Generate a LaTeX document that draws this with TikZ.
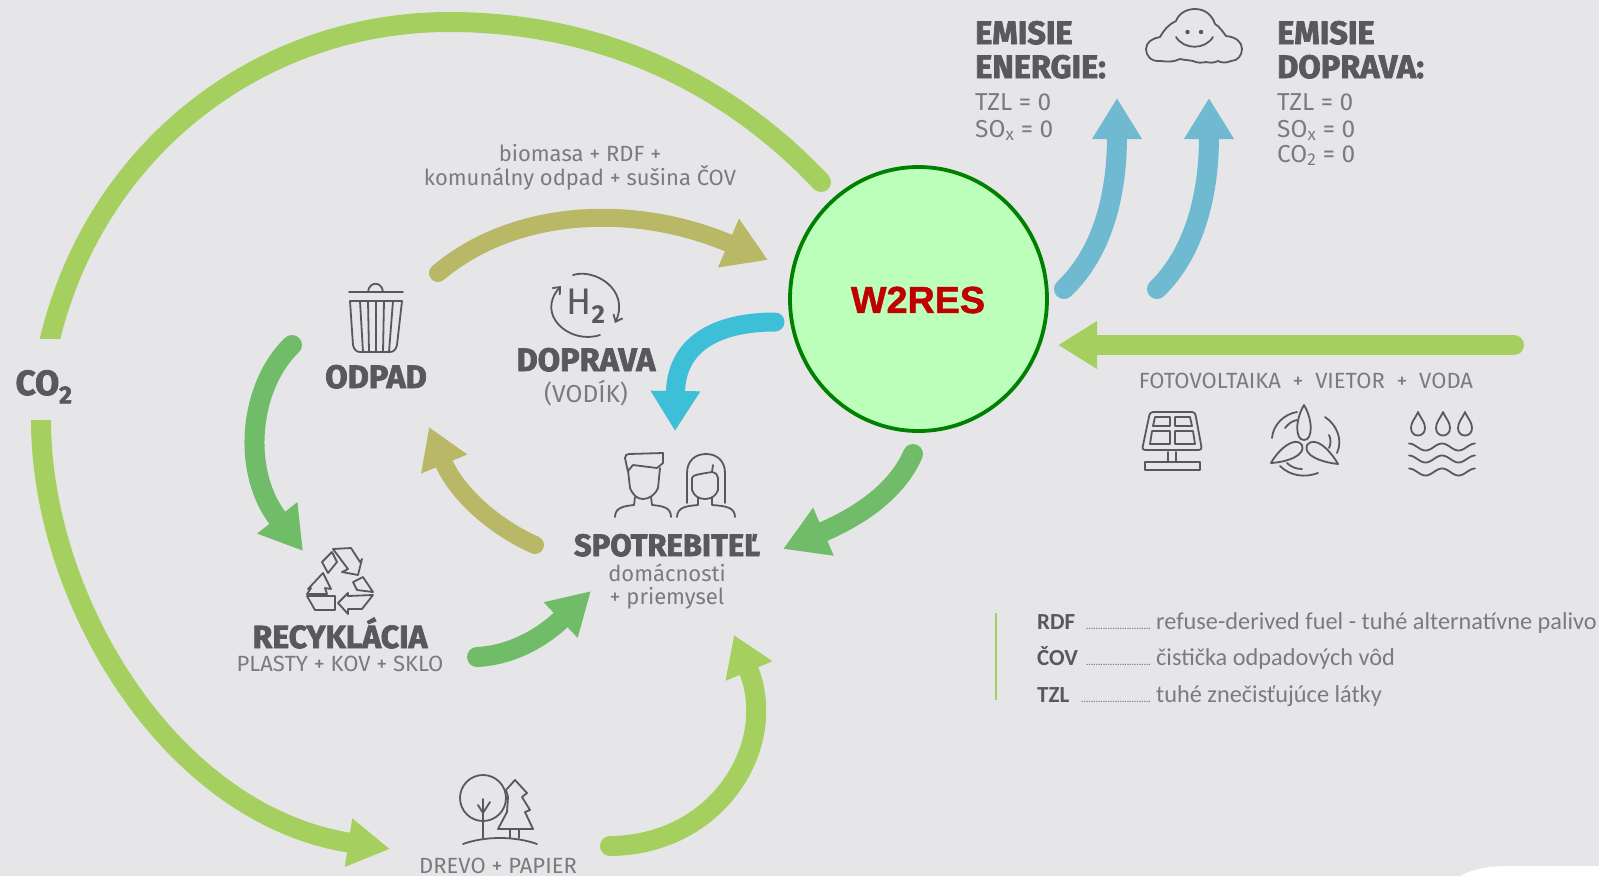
\documentclass[tikz,border=0pt]{standalone}
\usepackage{fontspec}
\usepackage{xcolor}
\usetikzlibrary{arrows.meta, calc, positioning, shapes.geometric}
\setmainfont{Fira Sans}
\newfontfamily\heavyfont[BoldFeatures={FakeBold=2.2}]{Fira Sans}
\newfontfamily\legendfont{Carlito}
\newfontfamily\redfont[BoldFeatures={FakeBold=1.4}]{Liberation Sans}
\definecolor{bgpanel}{HTML}{E6E6E8}
\definecolor{heavygrey}{HTML}{58595B}
\definecolor{thingrey}{HTML}{7A7B7E}
\definecolor{leafgreen}{HTML}{A5D05F}
\definecolor{midgreen}{HTML}{70BC69}
\definecolor{olivebrown}{HTML}{B8B866}
\definecolor{skyblue}{HTML}{6FBAD0}
\definecolor{brightcyan}{HTML}{3DBFD8}
\definecolor{circlefill}{HTML}{BBFFBB}
\definecolor{circleline}{HTML}{008000}
\definecolor{redtext}{HTML}{C00000}
\tikzset{
  heavylabel/.style={text=heavygrey, inner sep=0pt, anchor=base, font=\heavyfont\bfseries\fontsize{32.5}{34}\selectfont},
  thinlabel/.style={text=thingrey, inner sep=0pt, anchor=base, font=\fontsize{22}{25}\selectfont},
  biglabel/.style={text=thingrey, inner sep=0pt, anchor=base, font=\fontsize{24.5}{27}\selectfont},
  legendkey/.style={text=heavygrey, inner sep=0pt, anchor=base west, font=\legendfont\bfseries\fontsize{23}{26}\selectfont},
  legendtext/.style={text=thingrey, inner sep=0pt, anchor=base west, font=\legendfont\fontsize{24.3}{28}\selectfont},
  legenddots/.style={text=thingrey, inner sep=0pt, anchor=base east, font=\fontsize{10}{12}\selectfont},
  iconline/.style={draw=heavygrey, line width=1.8pt, line join=round, line cap=round},
  leafflow/.style={draw=leafgreen, line width=20pt, line cap=round},
  greenflow/.style={draw=midgreen, line width=20pt, line cap=round},
  oliveflow/.style={draw=olivebrown, line width=18pt, line cap=round},
  blueflow/.style={draw=skyblue, line width=20pt, line cap=round},
  cyanflow/.style={draw=brightcyan, line width=19pt, line cap=round},
}
\begin{document}
\begin{tikzpicture}[x=1pt,y=-1pt]
  \fill[bgpanel] (0,0) rectangle (1599,876);
  \fill[white] (1460,876) .. controls (1475,868) and (1490,866) .. (1510,866) -- (1599,866) -- (1599,876) -- cycle;
  \useasboundingbox (0,0) rectangle (1599,876);

  % Centre
  \node[ellipse, draw=circleline, fill=circlefill, line width=3.8pt, minimum width=257pt, minimum height=264pt, inner sep=0pt] (wtores) at (918.5,299) {};
  \node[text=redtext, inner sep=0pt, font=\redfont\bfseries\fontsize{37.7}{40}\selectfont] (wlabel) at (918,300) {W2RES};

  % Free ends of the arrows
  \coordinate (coup) at (47,352);
  \coordinate (codown) at (41,420);
  \coordinate (cotop) at (449,22);
  \coordinate (cohome) at (821,182);
  \coordinate (drevoin) at (390,849);
  \coordinate (drevoout) at (610,846);
  \coordinate (spotrebin) at (734,635);
  \coordinate (odpadout) at (438,273);
  \coordinate (wtoresin) at (768,260);
  \coordinate (wtoresh) at (775,322);
  \coordinate (dopravain) at (675,431);
  \coordinate (spotout) at (535,545);
  \coordinate (odpadin) at (429,427);
  \coordinate (odpadleft) at (292,345);
  \coordinate (recyin) at (303,551);
  \coordinate (recyout) at (477,657);
  \coordinate (spotin) at (591,591);
  \coordinate (wtoresdown) at (913,454);
  \coordinate (spotright) at (783,549);
  \coordinate (emisout) at (1064,289);
  \coordinate (emisin) at (1117,98);
  \coordinate (dopout) at (1157,289);
  \coordinate (dopin) at (1209,98);
  \coordinate (sunout) at (1514,345);
  \coordinate (sunin) at (1058,345);

  % Arrows
  \begin{scope}
    \clip (0,0) rectangle (1599,338);
    \draw[leafflow] (coup) .. controls (90,150) and (260,22) .. (cotop)
       .. controls (590,22) and (720,75) .. (cohome);
  \end{scope}
  \draw[leafflow, line cap=butt, -{Triangle[length=42pt,width=46pt]}] (codown) .. controls (41,600) and (170,815) .. (drevoin);
  \draw[leafflow, -{Triangle[length=39pt,width=48pt]}] (drevoout) .. controls (720,845) and (779,743) .. (spotrebin);
  \draw[oliveflow, -{Triangle[length=43pt,width=50pt]}] (odpadout) .. controls (515,208) and (635,203) .. (wtoresin);
  \draw[cyanflow, -{Triangle[length=40pt,width=47pt]}] (wtoresh) .. controls (715,322) and (676,345) .. (dopravain);
  \draw[oliveflow, -{Triangle[length=40pt,width=47pt]}] (spotout) .. controls (490,525) and (455,490) .. (odpadin);
  \draw[greenflow, -{Triangle[length=42pt,width=48pt]}] (odpadleft) .. controls (250,385) and (240,470) .. (recyin);
  \draw[greenflow, -{Triangle[length=42pt,width=46pt]}] (recyout) .. controls (515,655) and (545,635) .. (spotin);
  \draw[greenflow, -{Triangle[length=44pt,width=49pt]}] (wtoresdown) .. controls (895,495) and (853,519) .. (spotright);
  \draw[blueflow, -{Triangle[length=41pt,width=47pt]}] (emisout) .. controls (1100,255) and (1117,200) .. (emisin);
  \draw[blueflow, -{Triangle[length=41pt,width=47pt]}] (dopout) .. controls (1192,255) and (1209,200) .. (dopin);
  \draw[leafflow, -{Triangle[length=39pt,width=45pt]}] (sunout) -- (sunin);

  % Labels
  \node[heavylabel, font=\heavyfont\bfseries\fontsize{35}{38}\selectfont] (colabel) at (44,395) {CO\textsubscript{2}};
  \node[heavylabel, anchor=base west] (emisa) at (975,44) {EMISIE};
  \node[heavylabel, anchor=base west] (emisb) at (975,78) {ENERGIE:};
  \node[biglabel, anchor=base west] (emisc) at (975,110) {TZL = 0};
  \node[biglabel, anchor=base west] (emisd) at (975,137) {SO\textsubscript{x} = 0};
  \node[heavylabel, anchor=base west] (dopa) at (1277,44) {EMISIE};
  \node[heavylabel, anchor=base west] (dopb) at (1277,78) {DOPRAVA:};
  \node[biglabel, anchor=base west] (dopc) at (1277,110) {TZL = 0};
  \node[biglabel, anchor=base west] (dopd) at (1277,137) {SO\textsubscript{x} = 0};
  \node[biglabel, anchor=base west] (dope) at (1277,162) {CO\textsubscript{2} = 0};
  \node[thinlabel] (biomasa) at (580,161) {biomasa + RDF +};
  \node[thinlabel] (komunal) at (580,185) {komunálny odpad + sušina ČOV};
  \node[heavylabel] (odpad) at (376,388) {ODPAD};
  \node[heavylabel] (doprava) at (586,371) {DOPRAVA};
  \node[biglabel] (vodik) at (586,402) {(VODÍK)};
  \node[heavylabel, font=\heavyfont\bfseries\fontsize{31}{34}\selectfont] (spotreb) at (667,556) {SPOTREBITEĽ};
  \node[thinlabel] (domac) at (667,581) {domácnosti};
  \node[thinlabel] (priem) at (667,604) {+ priemysel};
  \node[heavylabel, font=\heavyfont\bfseries\fontsize{32}{34}\selectfont] (recyk) at (340,648) {RECYKLÁCIA};
  \node[thinlabel] (plasty) at (340,671) {PLASTY + KOV + SKLO};
  \node[thinlabel] (drevo) at (498,873) {DREVO + PAPIER};
  \node[thinlabel] (foto) at (1306,388) {FOTOVOLTAIKA\ \ +\ \ VIETOR\ \ +\ \ VODA};
  \node[text=heavygrey, inner sep=0pt, font=\fontsize{37}{40}\selectfont] (htwo) at (586,306) {H\textsubscript{\bfseries 2}};

  % Legend
  \draw[draw=leafgreen, line width=2pt] (996,613) -- (996,700);
  \node[legendkey] (rdf) at (1037,629) {RDF};
  \node[legenddots] (rdfdots) at (1151,629) {...........................};
  \node[legendtext] (rdftext) at (1156,629) {refuse-derived fuel - tuhé alternatívne palivo};
  \node[legendkey] (cov) at (1037,665) {ČOV};
  \node[legenddots] (covdots) at (1151,665) {...........................};
  \node[legendtext] (covtext) at (1156,665) {čistička odpadových vôd};
  \node[legendkey] (tzl) at (1037,702) {TZL};
  \node[legenddots] (tzldots) at (1151,702) {.............................};
  \node[legendtext] (tzltext) at (1156,702) {tuhé znečisťujúce látky};

  % Cloud
  \draw[iconline] (1161,61) .. controls (1150,62) and (1146,55) .. (1146,49)
     .. controls (1146,42) and (1153,38) .. (1160,37)
     .. controls (1164,30) and (1169,24) .. (1176,21)
     .. controls (1179,13) and (1187,9) .. (1195,9)
     .. controls (1205,9) and (1212,15) .. (1215,24)
     .. controls (1219,26) and (1223,32) .. (1226,36)
     .. controls (1236,37) and (1242,42) .. (1242,49)
     .. controls (1242,56) and (1237,61) .. (1231,61)
     .. controls (1226,63) and (1222,63) .. (1218,61)
     .. controls (1214,63) and (1210,63) .. (1206,62)
     .. controls (1202,63) and (1197,63) .. (1193,61)
     .. controls (1188,60) and (1184,60) .. (1180,59)
     .. controls (1174,62) and (1167,62) .. (1161,61);
  \fill[heavygrey] (1187.5,32) circle[radius=2.2pt] (1201,32) circle[radius=2.2pt];
  \draw[iconline] (1176,37) .. controls (1184,50) and (1205,50) .. (1213,37);

  % Trash can
  \draw[iconline] (349,292) -- (403,292);
  \draw[iconline] (368,292) .. controls (369,281) and (382,281) .. (383,292);
  \draw[iconline] (350,301) -- (402,301) -- (397,345) .. controls (396,350) and (393,352) .. (390,352)
     -- (360,352) .. controls (357,352) and (354,350) .. (353,345) -- cycle;
  \foreach \xa/\xb in {360/363,368/369,376/376,384/383,393/389}
    \draw[iconline] (\xa,301) -- (\xb,352);

  % H2 arrows
  \draw[iconline, -{Straight Barb[length=6pt,width=10pt]}] (600,335) .. controls (570,345) and (535,315) .. (561,286);
  \draw[iconline, -{Straight Barb[length=6pt,width=10pt]}] (573,275) .. controls (595,268) and (630,290) .. (615,323);

  % People
  \draw[iconline] (628,472) -- (625,458) .. controls (625,455) and (627,454) .. (629,454) -- (663,453)
     -- (663,463) -- (657,468) -- (633,465) -- (628,471);
  \draw[iconline] (628,470) -- (630,488) .. controls (633,495) and (637,499) .. (643,499)
     .. controls (649,499) and (655,495) .. (658,488) -- (660,468);
  \draw[iconline] (635,497) -- (634,505) .. controls (625,506) and (615,507) .. (615,517);
  \draw[iconline] (651,497) -- (652,505) .. controls (662,506) and (671,507) .. (671,517);
  \draw[iconline] (687,503) -- (687,473) .. controls (687,461) and (695,454) .. (706,454)
     .. controls (717,454) and (725,461) .. (725,473) -- (725,503);
  \draw[iconline] (692,490) -- (692,478) .. controls (692,475) and (700,474) .. (712,472) -- (713,465);
  \draw[iconline] (712,472) .. controls (716,473) and (718,475) .. (718,478) -- (718,490)
     .. controls (716,496) and (711,499) .. (705,499) .. controls (699,499) and (694,496) .. (692,490);
  \draw[iconline] (698,498) -- (698,505) .. controls (687,506) and (677,507) .. (677,517);
  \draw[iconline] (712,498) -- (712,505) .. controls (725,506) and (735,507) .. (735,517);

  % Recycling
  \draw[iconline] (322,562) -- (332,552) -- (337,562) -- (328,573) -- cycle;
  \draw[iconline] (333,549) -- (351,548) -- (360,562) -- (362,559) -- (358,575) -- (342,572) -- (348,569) -- cycle;
  \draw[iconline] (308,589) -- (323,573) -- (331,589) -- (325,588) -- (327,594) -- (307,594) -- (311,588) -- cycle;
  \draw[iconline] (307,596) -- (335,596) -- (335,610) -- (315,610) -- cycle;
  \draw[iconline] (353,582) -- (363,577) -- (373,592) -- (357,590) -- cycle;
  \draw[iconline] (373,595) -- (362,609) -- (348,609) -- (348,614) -- (338,603) -- (348,593) -- (348,596) -- cycle;

  % Trees
  \draw[iconline] (483,798) circle[radius=23pt];
  \draw[iconline] (483,838) -- (483,799);
  \draw[iconline] (478,805) -- (483,813) -- (490,802);
  \draw[iconline] (463,844) .. controls (485,836) and (515,836) .. (537,844);
  \fill[bgpanel] (515,780) -- (527,793) -- (522,797) -- (530,810) -- (525,812) -- (533,829) -- (498,829) -- (507,812) -- (508,797) -- (506,790) -- cycle;
  \draw[iconline] (515,780) -- (527,793) -- (522,797) -- (530,810) -- (525,812) -- (533,829) -- (498,829) -- (507,812) -- (508,797) -- (506,790) -- cycle;
  \draw[iconline] (510,829) -- (510,838) (519,829) -- (519,838);

  % Solar panel
  \draw[iconline, rounded corners=3pt] (1150,412) -- (1195,412) -- (1202,450) -- (1142,450) -- cycle;
  \draw[iconline] (1155,417) -- (1170,417) -- (1170,426) -- (1153,426) -- cycle;
  \draw[iconline] (1175,417) -- (1190,417) -- (1192,426) -- (1175,426) -- cycle;
  \draw[iconline] (1152,431) -- (1170,431) -- (1170,444) -- (1150,444) -- cycle;
  \draw[iconline] (1175,431) -- (1193,431) -- (1195,444) -- (1175,444) -- cycle;
  \draw[iconline] (1168,452) -- (1168,462) (1176,452) -- (1176,462);
  \draw[iconline] (1145,462) rectangle (1200,470);

  % Wind turbine
  \draw[iconline] (1304,405) .. controls (1295,420) and (1295,440) .. (1304,440) .. controls (1313,440) and (1313,420) .. (1304,405);
  \draw[iconline] (1307,445) .. controls (1315,435) and (1330,450) .. (1338,464) .. controls (1320,462) and (1303,455) .. (1307,445);
  \draw[iconline] (1302,445) .. controls (1295,435) and (1278,450) .. (1271,463) .. controls (1288,462) and (1306,455) .. (1302,445);
  \draw[iconline] (1272,438) .. controls (1273,425) and (1284,414) .. (1297,412);
  \draw[iconline] (1325,417) .. controls (1337,425) and (1343,440) .. (1337,453);
  \draw[iconline] (1280,466) .. controls (1290,476) and (1305,478) .. (1318,473);
  \draw[iconline] (1285,428) .. controls (1288,424) and (1292,421) .. (1297,420);
  \draw[iconline] (1329,435) .. controls (1331,439) and (1331,444) .. (1329,448);
  \draw[iconline] (1287,463) .. controls (1291,467) and (1296,469) .. (1302,469);

  % Water
  \foreach \xc in {1418,1443,1465} {
    \draw[iconline] (\xc,412) .. controls (\xc-3,419) and (\xc-7,422) .. (\xc-7,428)
       .. controls (\xc-7,438) and (\xc+7,438) .. (\xc+7,428)
       .. controls (\xc+7,422) and (\xc+3,419) .. (\xc,412);
  }
  \foreach \yw in {447,459,472}
    \draw[iconline] plot[smooth, domain=1409:1475, samples=41] (\x,{\yw-3.5*cos(10.9*(\x-1409))});
\end{tikzpicture}
\end{document}
